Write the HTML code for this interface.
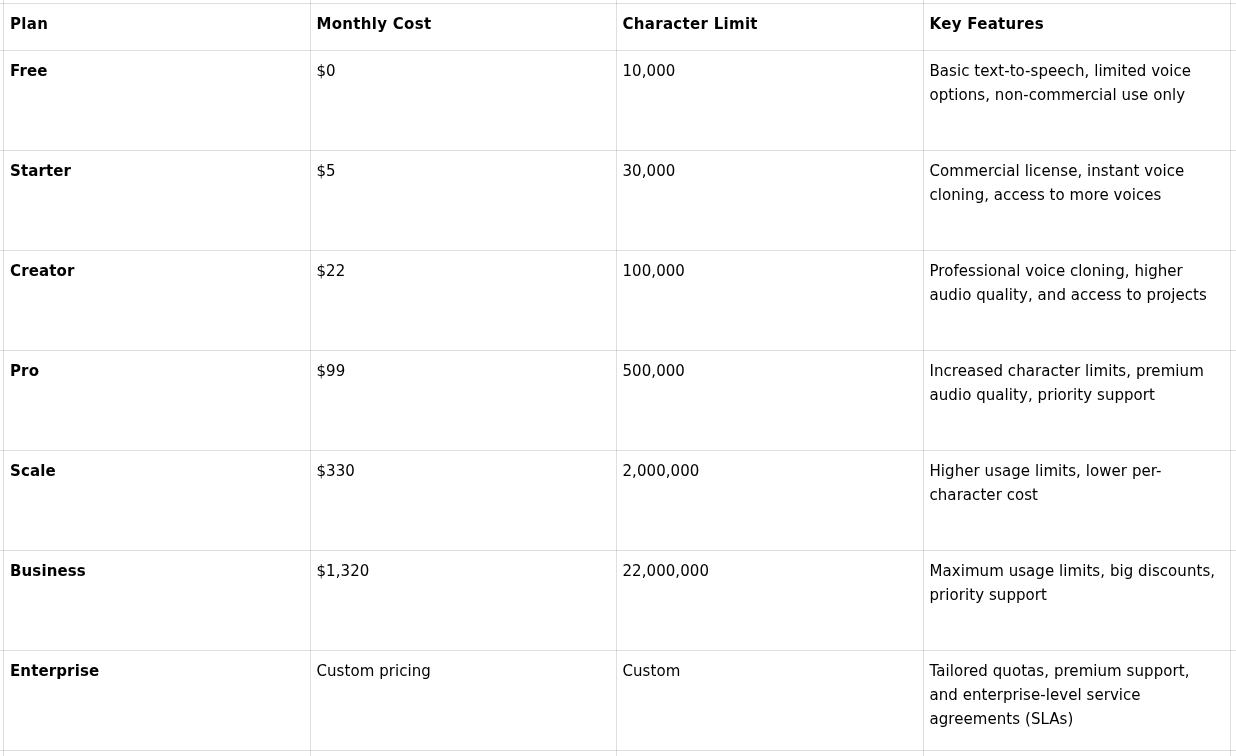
<!DOCTYPE html>
<html lang="en">
<head>
<meta charset="utf-8">
<title>Plans</title>
<style>
html,body{margin:0;padding:0;background:#fff;}
body{width:1236px;height:756px;overflow:hidden;position:relative;font-family:"DejaVu Sans","Liberation Sans",sans-serif;font-size:15px;line-height:24px;color:#000;}
.grid{position:absolute;left:0;top:0;width:1236px;height:756px;}
.v,.h{position:absolute;background:rgba(0,0,12,0.125);}
.v{top:0;width:1px;height:756px;}
.h{left:0;height:1px;width:1236px;}
table{position:absolute;left:3px;top:3px;border-collapse:collapse;table-layout:fixed;width:1227px;}
col.c1{width:307px}col.c2{width:306px}col.c3{width:307px}col.c4{width:307px}
td,th{padding:9px 0 0 6.5px;letter-spacing:0.06px;white-space:nowrap;vertical-align:top;text-align:left;font-weight:normal;box-sizing:border-box;overflow:hidden;}
tr.hd th{color:#000;height:47px;font-weight:bold;letter-spacing:0.3px;}
tr.r td{height:100px;}
td.b{color:#000;font-weight:bold;letter-spacing:0.12px;padding-left:7px;}
tr.hd th:first-child{padding-left:7px;}
</style>
</head>
<body>
<div class="grid">
<div class="v" style="left:3px"></div><div class="v" style="left:310px"></div><div class="v" style="left:616px"></div><div class="v" style="left:923px"></div><div class="v" style="left:1230px"></div>
<div class="h" style="top:3px"></div><div class="h" style="top:50px"></div><div class="h" style="top:150px"></div><div class="h" style="top:250px"></div><div class="h" style="top:350px"></div><div class="h" style="top:450px"></div><div class="h" style="top:550px"></div><div class="h" style="top:650px"></div><div class="h" style="top:750px"></div>
</div>
<table>
<colgroup><col class="c1"><col class="c2"><col class="c3"><col class="c4"></colgroup>
<tr class="hd"><th>Plan</th><th>Monthly Cost</th><th>Character Limit</th><th>Key Features</th></tr>
<tr class="r"><td class="b">Free</td><td>$0</td><td>10,000</td><td>Basic text-to-speech, limited voice<br>options, non-commercial use only</td></tr>
<tr class="r"><td class="b">Starter</td><td>$5</td><td>30,000</td><td>Commercial license, instant voice<br>cloning, access to more voices</td></tr>
<tr class="r"><td class="b">Creator</td><td>$22</td><td>100,000</td><td>Professional voice cloning, higher<br>audio quality, and access to projects</td></tr>
<tr class="r"><td class="b">Pro</td><td>$99</td><td>500,000</td><td>Increased character limits, premium<br>audio quality, priority support</td></tr>
<tr class="r"><td class="b">Scale</td><td>$330</td><td>2,000,000</td><td>Higher usage limits, lower per-<br>character cost</td></tr>
<tr class="r"><td class="b">Business</td><td>$1,320</td><td>22,000,000</td><td>Maximum usage limits, big discounts,<br>priority support</td></tr>
<tr class="r"><td class="b">Enterprise</td><td>Custom pricing</td><td>Custom</td><td>Tailored quotas, premium support,<br>and enterprise-level service<br>agreements (SLAs)</td></tr>
</table>
</body>
</html>
